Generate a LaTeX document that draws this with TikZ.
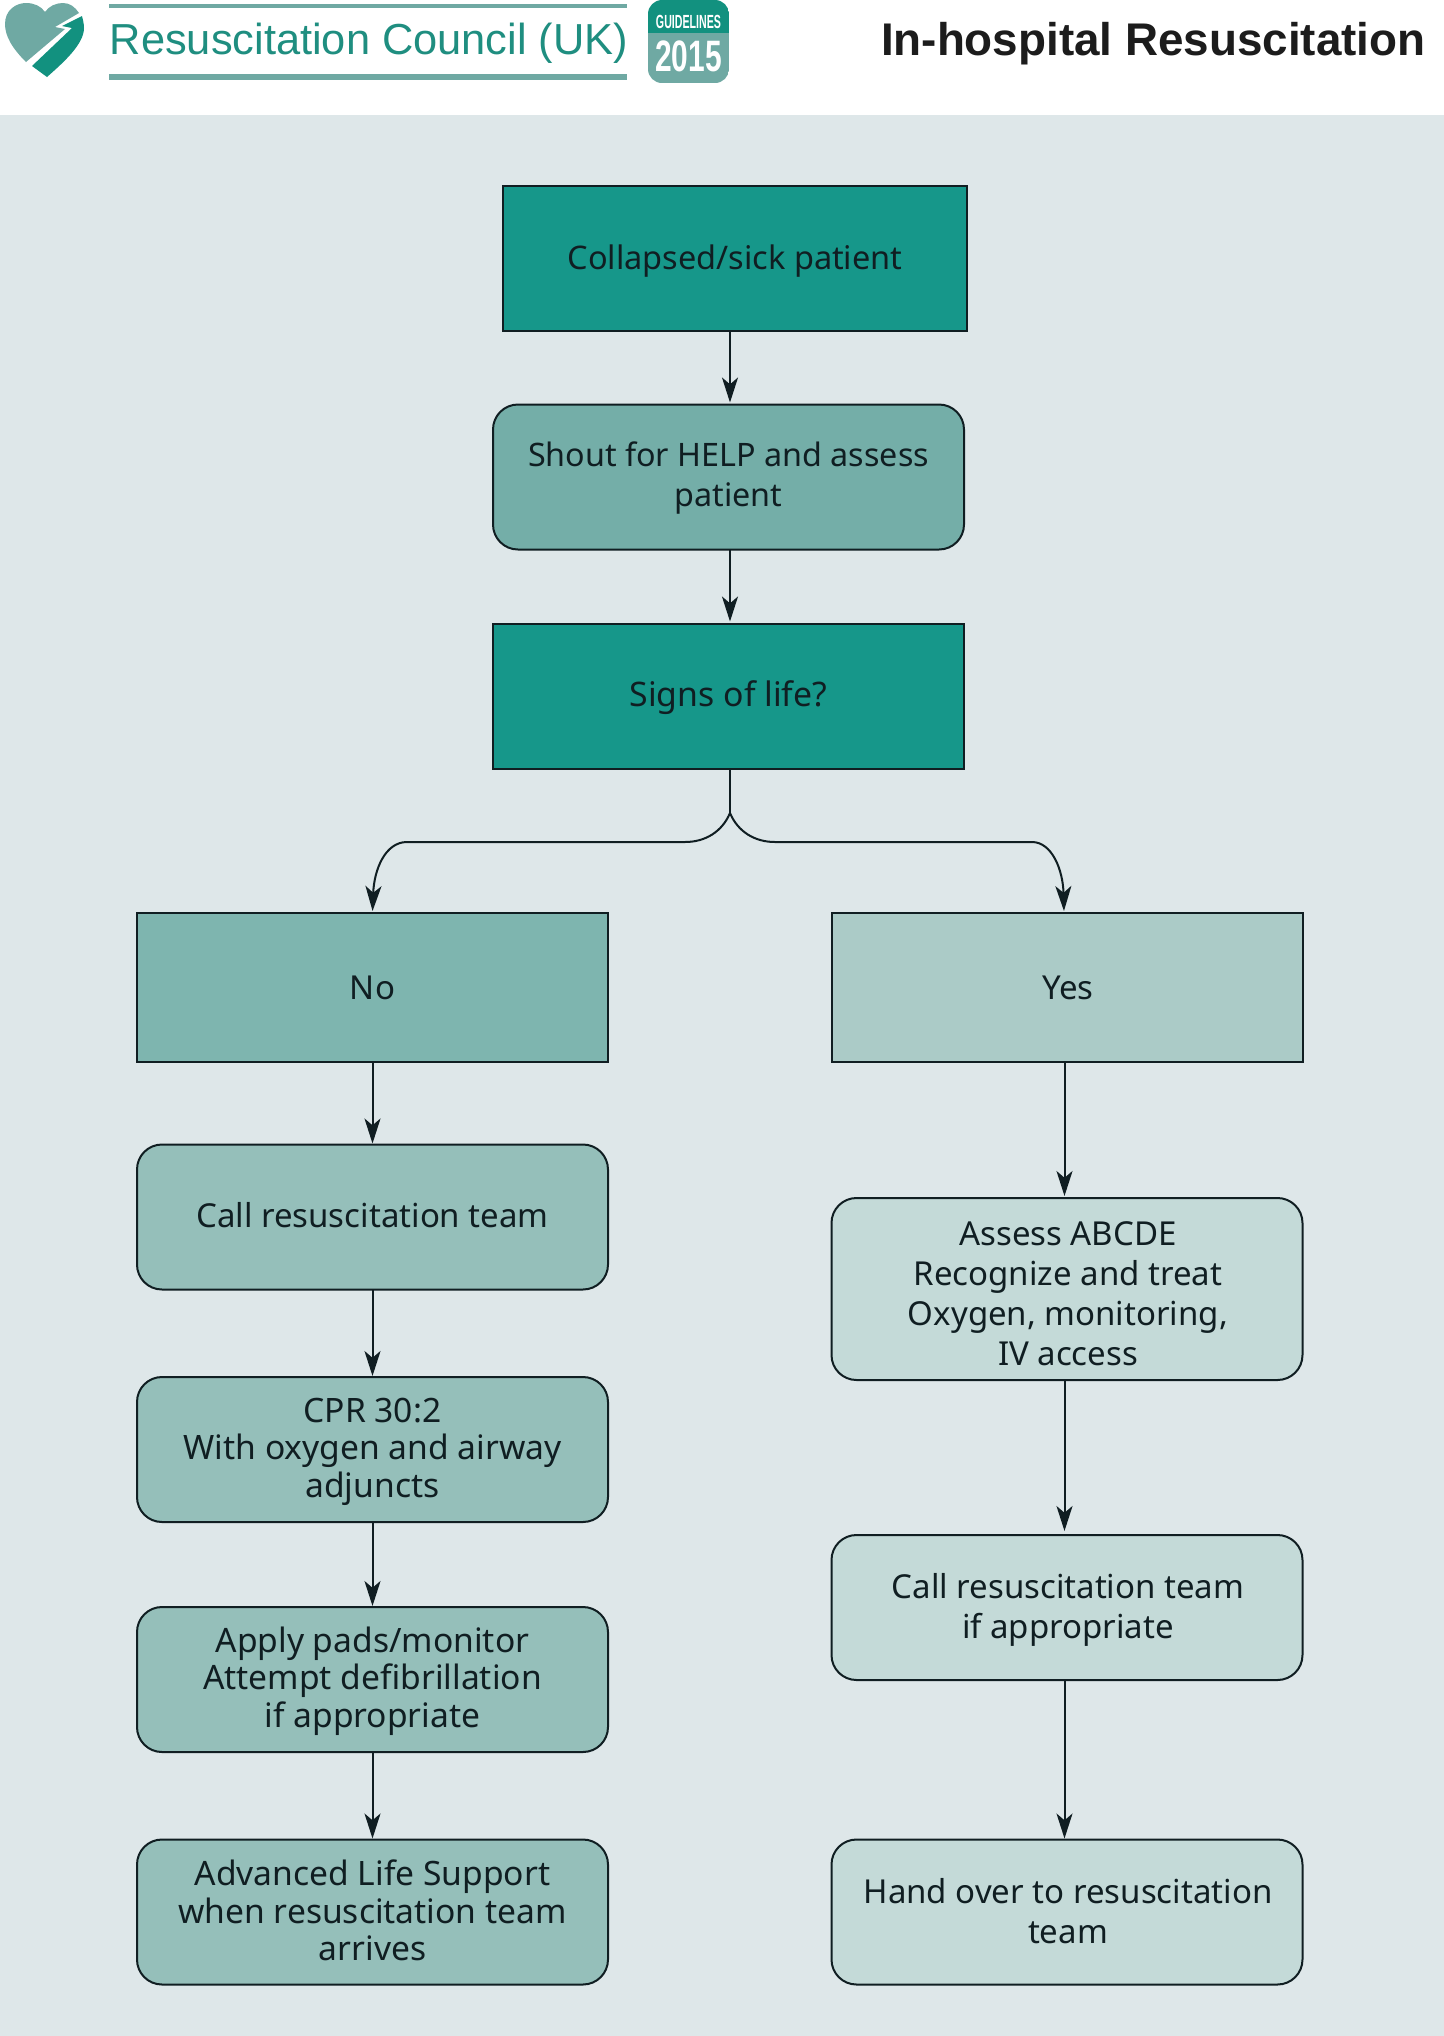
\documentclass[tikz,border=0pt]{standalone}
\usepackage{fontspec}
\setmainfont{Noto Sans}
\newfontfamily\logofont{Liberation Sans}
\usetikzlibrary{arrows.meta,calc}
\definecolor{panelbg}{HTML}{DEE7E9}
\definecolor{deepteal}{HTML}{16978A}
\definecolor{midteal}{HTML}{74AEA8}
\definecolor{noteal}{HTML}{7EB5AF}
\definecolor{yesteal}{HTML}{ABCBC7}
\definecolor{leftstep}{HTML}{95BFBA}
\definecolor{rightstep}{HTML}{C4DAD8}
\definecolor{inkdark}{HTML}{101E22}
\definecolor{titleink}{HTML}{1C1C1C}
\definecolor{logotext}{HTML}{1F8E80}
\definecolor{logosoft}{HTML}{6FA9A3}
\definecolor{logodeep}{HTML}{12917F}
% Centred lines of box text, moved by #1 across and #2 down without changing the box
\newcommand\boxtext[3]{\hspace*{#1}\raisebox{\dimexpr-4pt-#2\relax}[0pt][0pt]{\begin{tabular}{@{}c@{}}#3\end{tabular}}}
\tikzset{
  x=0.5pt,y=-0.5pt,
  flowbox/.style={draw=inkdark,line width=1pt,minimum width=#1,inner sep=0pt,outer sep=0pt,
    align=center,text=inkdark,font=\fontsize{16.5}{20}\selectfont},
  flowbox/.default=235.5pt,
  tall/.style={minimum height=72.5pt},
  soft/.style={rounded corners=12.5pt},
  sized/.style={font=\fontsize{#1}{20}\selectfont},
  tightlines/.style={font=\fontsize{16.8}{18.7}\selectfont},
  flowarrow/.style={draw=inkdark,line width=1pt,
    -{Stealth[length=12.5pt,width=8pt,inset=3.4pt]}},
}
\begin{document}
\begin{tikzpicture}
\useasboundingbox (0,0) rectangle (1444,2036);
\fill[white] (0,0) rectangle (1444,2036);
\fill[panelbg] (0,115) rectangle (1444,2036);

% Masthead: heart mark
\fill[logosoft] (26,62) .. controls (12,48) and (5,36) .. (5,24)
  .. controls (5,10) and (16,3) .. (26,3)
  .. controls (34,3) and (41,6) .. (45,12)
  .. controls (49,6) and (56,3) .. (63,3)
  .. controls (70,3) and (75,7) .. (79,13)
  -- (55,27) -- (65,29) -- cycle;
\fill[logodeep] (32,66) -- (72,28) -- (62,26) -- (82,16)
  .. controls (83,20) and (84,24) .. (84,28)
  .. controls (84,44) and (64,62) .. (47,77) -- cycle;

% Masthead: wordmark and rules
\fill[logosoft] (109,3.5) rectangle (627,8);
\fill[logosoft] (109,74) rectangle (627,80);
\node[text=logotext,font=\logofont\fontsize{21.7}{26}\selectfont,anchor=center,inner sep=0pt]
  (wordmark) at (369,43) {Resuscitation Council (UK)};

% Masthead: guidelines badge
\begin{scope}
  \clip[rounded corners=7pt] (648,0) rectangle (729,83);
  \fill[logodeep] (648,0) rectangle (729,33);
  \fill[logosoft] (648,33) rectangle (729,83);
\end{scope}
\node[text=white,font=\logofont\bfseries\fontsize{9.5}{10}\selectfont,xscale=0.56,inner sep=0pt]
  (badgetop) at (688.5,21.5) {GUIDELINES};
\node[text=white,font=\logofont\bfseries\fontsize{22}{25}\selectfont,xscale=0.68,inner sep=0pt]
  (badgeyear) at (688.5,56) {2015};

% Masthead: title
\node[text=titleink,font=\logofont\bfseries\fontsize{22.9}{26}\selectfont,anchor=east,inner sep=0pt]
  (title) at (1426,44) {In-hospital Resuscitation};

% Top of the chart
\node[flowbox=232pt,tall,sized=16.25,fill=deepteal] (collapsed) at (735,258.5) {\boxtext{0pt}{1.65pt}{Collapsed/sick patient}};
\node[flowbox,tall,soft,sized=16.15,fill=midteal] (shout) at (728.5,477) {\boxtext{0pt}{1.15pt}{Shout for HELP and assess\\patient}};
\node[flowbox,tall,sized=16.9,fill=deepteal] (signs) at (728.5,696) {\boxtext{0pt}{1.65pt}{Signs of life?}};

% No branch
\node[flowbox,minimum height=74.5pt,fill=noteal] (no) at (372.5,987.5) {\boxtext{0pt}{2.1pt}{No}};
\node[flowbox,tall,soft,fill=leftstep] (callteam) at (372.5,1217) {\boxtext{0pt}{1.5pt}{Call resuscitation team}};
\node[flowbox,tall,soft,tightlines,fill=leftstep] (cpr) at (372.5,1449.5) {\boxtext{0pt}{1.8pt}{CPR 30:2\\With oxygen and airway\\adjuncts}};
\node[flowbox,tall,soft,tightlines,fill=leftstep] (pads) at (372.5,1679.5) {\boxtext{0pt}{1.8pt}{Apply pads/monitor\\Attempt defibrillation\\if appropriate}};
\node[flowbox,tall,soft,tightlines,fill=leftstep] (als) at (372.5,1912) {\boxtext{0pt}{2.1pt}{Advanced Life Support\\when resuscitation team\\arrives}};

% Yes branch
\node[flowbox,minimum height=74.5pt,fill=yesteal] (yes) at (1067,987.5) {\boxtext{1pt}{2.1pt}{Yes}};
\node[flowbox,minimum height=91pt,soft,fill=rightstep] (abcde) at (1067,1289) {\boxtext{1pt}{4.5pt}{Assess ABCDE\\Recognize and treat\\Oxygen, monitoring,\\IV access}};
\node[flowbox,tall,soft,fill=rightstep] (callif) at (1067,1607.5) {\boxtext{1pt}{1.65pt}{Call resuscitation team\\if appropriate}};
\node[flowbox,tall,soft,fill=rightstep] (handover) at (1067,1912) {\boxtext{1pt}{2.1pt}{Hand over to resuscitation\\team}};

% Connectors
\draw[flowarrow,shorten >=1pt] ([xshift=-2.5pt]collapsed.south) -- ([xshift=0.75pt]shout.north);
\draw[flowarrow,shorten >=1pt] ([xshift=0.75pt]shout.south) -- ([xshift=0.75pt]signs.north);

\coordinate (fork) at (730,813);
\draw[draw=inkdark,line width=1pt] ([xshift=0.75pt]signs.south) -- (fork);
\draw[flowarrow,shorten >=1pt] (fork) .. controls (722,832) and (705,842) .. (685,842)
  -- (407,842) .. controls (385,842) and (374,870) .. (no.north);
\draw[flowarrow,shorten >=1pt] (fork) .. controls (738,832) and (755,842) .. (775,842)
  -- (1032,842) .. controls (1052,842) and (1063,870) .. ([xshift=-1.5pt]yes.north);

\foreach \upper/\lower in {no/callteam,callteam/cpr,cpr/pads,pads/als}
  \draw[flowarrow,shorten >=0.5pt] (\upper.south) -- (\lower.north);
\draw[flowarrow,shorten >=1pt] ([xshift=-1.25pt]yes.south) -- ([xshift=-1.25pt]abcde.north);
\draw[flowarrow,shorten >=2pt] ([xshift=-1.25pt]abcde.south) -- ([xshift=-1.25pt]callif.north);
\draw[flowarrow,shorten >=0.5pt] ([xshift=-1.25pt]callif.south) -- ([xshift=-1.25pt]handover.north);
\end{tikzpicture}
\end{document}
